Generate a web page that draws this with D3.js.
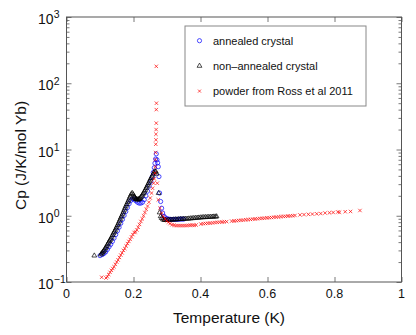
<!DOCTYPE html>
<html>
<head>
<meta charset="utf-8">
<script src="https://cdn.jsdelivr.net/npm/d3@7/dist/d3.min.js"></script>
<style>
body { margin: 0; background: #fff; }
svg { display: block; font-family: "Liberation Sans", Arial, sans-serif; }
</style>
</head>
<body>
<svg id="chart" width="416" height="335"></svg>
<script>
/* Data: Cp vs T */

// annealed crystal (blue circles)
var annealedT  = [0.100,0.107,0.112,0.117,0.122,0.127,0.132,0.137,0.142,0.147,0.152,0.157,0.162,0.167,
                  0.172,0.177,0.182,0.187,0.192,0.197,0.202,0.207,0.212,0.217,0.222,0.227,0.232,0.237,
                  0.242,0.247,0.252,0.256,0.259,0.262,0.264,0.266,0.268,0.270,0.272,0.274,0.276,0.278,
                  0.281,0.284,0.287,0.291,0.295,0.300,0.305,0.310,0.315,0.320,0.325,0.330,0.335,0.340,
                  0.345,0.350];
var annealedCp = [0.25,0.26,0.27,0.285,0.31,0.34,0.37,0.41,0.46,0.52,0.59,0.67,0.77,0.88,
                  1.01,1.16,1.33,1.52,1.70,1.80,1.78,1.68,1.60,1.55,1.55,1.60,1.75,2.00,
                  2.35,2.80,3.30,3.90,4.50,5.30,6.20,7.20,8.60,7.00,6.30,5.50,3.90,2.20,
                  1.64,1.30,1.10,0.98,0.93,0.90,0.89,0.88,0.88,0.88,0.88,0.88,0.885,0.89,
                  0.89,0.89];

// non-annealed crystal (black triangles)
var rawT  = [0.083,0.105,0.110,0.115,0.120,0.125,0.130,0.135,0.140,0.145,0.150,0.155,0.160,0.165,
             0.170,0.175,0.180,0.185,0.190,0.193,0.196,0.199,0.202,0.205,0.208,0.212,0.216,0.220,
             0.225,0.230,0.235,0.240,0.245,0.250,0.255,0.258,0.261,0.264,0.267,0.269,0.275,0.278,
             0.281,0.284,0.288,0.292,0.296,0.300,0.305,0.310,0.315,0.320,0.325,0.330,0.335,0.340,
             0.345,0.350,0.355,0.360,0.365,0.370,0.375,0.380,0.385,0.390,0.395,0.400,0.405,0.410,
             0.415,0.420,0.425,0.430,0.435,0.440,0.445,0.448,
             0.1025,0.1075,0.1125,0.1175,0.1225,0.1275,0.1325,0.1375,0.1425,0.1475,0.1525,0.1575,
             0.1625,0.1675,0.1725,0.1775,0.1825,0.1875,0.2035,0.2065,0.2100,0.2140,0.2180,0.2225,
             0.2275,0.2325,0.2375,0.2425,0.2475,0.2525];
var rawCp = [0.25,0.27,0.29,0.32,0.35,0.39,0.43,0.48,0.54,0.60,0.68,0.77,0.88,1.00,
             1.15,1.32,1.50,1.70,1.95,2.10,2.20,2.10,1.95,1.85,1.78,1.75,1.78,1.85,
             2.00,2.20,2.45,2.75,3.10,3.50,3.90,4.20,4.50,4.70,4.60,4.30,2.20,1.12,
             0.98,0.92,0.88,0.86,0.86,0.86,0.865,0.87,0.87,0.875,0.88,0.88,0.885,0.89,
             0.89,0.895,0.90,0.90,0.905,0.91,0.915,0.92,0.925,0.93,0.935,0.94,0.945,0.95,
             0.95,0.955,0.96,0.96,0.965,0.97,0.97,0.975,
             0.26,0.28,0.30,0.33,0.37,0.41,0.45,0.51,0.57,0.64,0.72,0.82,
             0.94,1.07,1.23,1.41,1.60,1.82,1.90,1.80,1.76,1.76,1.80,1.92,
             2.10,2.32,2.60,2.92,3.30,3.70];

// powder from Ross et al 2011 (red crosses)
var powderT  = [0.105,0.118,0.122,0.126,0.130,0.134,0.138,0.142,0.146,0.150,0.154,0.158,0.162,0.166,
                0.170,0.174,0.178,0.182,0.186,0.190,0.194,0.198,0.202,0.206,0.210,0.214,0.218,0.222,
                0.226,0.230,0.234,0.238,0.242,0.246,0.250,0.254,0.257,0.260,0.262,0.264,0.265,0.2655,
                0.266,0.2665,0.267,0.267,0.2675,0.268,0.268,0.2685,0.268,0.271,0.274,0.279,0.284,0.289,
                0.294,0.299,0.304,0.309,0.315,0.321,0.327,0.333,0.339,0.345,0.351,0.357,0.363,0.369,
                0.375,0.381,0.387,0.401,0.408,0.415,0.422,0.429,0.436,0.443,0.450,0.457,0.464,0.471,
                0.478,0.493,0.500,0.507,0.514,0.521,0.528,0.535,0.542,0.549,0.556,0.563,0.570,0.577,
                0.584,0.591,0.598,0.605,0.612,0.619,0.626,0.633,0.640,0.647,0.654,0.661,0.668,0.675,
                0.682,0.697,0.709,0.722,0.734,0.747,0.759,0.772,0.785,0.796,0.810,0.815,0.832,0.848,
                0.876];
var powderCp = [0.118,0.115,0.120,0.130,0.140,0.150,0.160,0.170,0.185,0.200,0.215,0.235,0.255,0.275,
                0.300,0.320,0.350,0.380,0.410,0.440,0.480,0.520,0.560,0.570,0.610,0.670,0.740,0.820,
                0.900,1.000,1.120,1.250,1.400,1.600,1.850,2.200,2.600,3.100,3.600,4.400,5.500,7.000,
                9.000,12.00,14.00,17.00,20.00,25.00,40.00,50.00,180.0,3.100,1.740,1.300,1.100,0.980,
                0.900,0.840,0.800,0.760,0.730,0.720,0.710,0.710,0.710,0.710,0.710,0.710,0.715,0.720,
                0.720,0.720,0.725,0.750,0.760,0.765,0.770,0.775,0.780,0.790,0.795,0.800,0.805,0.810,
                0.815,0.830,0.835,0.840,0.850,0.855,0.860,0.870,0.875,0.880,0.890,0.895,0.900,0.910,
                0.915,0.920,0.930,0.935,0.940,0.950,0.955,0.960,0.970,0.975,0.980,0.990,0.995,1.000,
                1.010,1.030,1.040,1.050,1.060,1.070,1.080,1.100,1.110,1.120,1.140,1.130,1.150,1.160,
                1.200];

/* Ticks and labels */

var T_TICKS = [0, 0.2, 0.4, 0.6, 0.8, 1];
var T_TICK_LABELS = ["0", "0.2", "0.4", "0.6", "0.8", "1"];
var CP_EXPONENTS = [-1, 0, 1, 2, 3];
var LEGEND_LABELS = ["annealed crystal", "non\u2013annealed crystal", "powder from Ross et al 2011"];
var X_LABEL = "Temperature (K)";
var Y_LABEL = "Cp (J/K/mol Yb)";

/* Measures */

var W = 416, H = 335;
var PLOT = { left: 66.5, right: 401.5, top: 17, bottom: 282 };
var FRAME_COLOR = "#555";
var MAJOR_TICK = 5, MINOR_TICK = 3;

var svg = d3.select("#chart");

var x = d3.scaleLinear().domain([0, 1]).range([PLOT.left, PLOT.right]);
var y = d3.scaleLog().domain([0.1, 1000]).range([PLOT.bottom, PLOT.top]);

var majorCp = CP_EXPONENTS.map(function(e) { return Math.pow(10, e); });
var minorCp = [];
majorCp.slice(0, -1).forEach(function(m) {
	for (var k = 2; k <= 9; k++) minorCp.push(m * k);
});

function styleAxis(g) {
	g.select(".domain").remove();
	g.selectAll(".tick line").attr("stroke", FRAME_COLOR).attr("stroke-width", 0.8);
	g.selectAll(".tick text").remove();
}

/* x ticks (inward, bottom and top) */
svg.append("g").attr("transform", "translate(0," + PLOT.bottom + ")")
	.call(d3.axisBottom(x).tickValues(T_TICKS).tickSize(-MAJOR_TICK).tickFormat(""))
	.call(styleAxis);
svg.append("g").attr("transform", "translate(0," + PLOT.top + ")")
	.call(d3.axisTop(x).tickValues(T_TICKS).tickSize(-MAJOR_TICK).tickFormat(""))
	.call(styleAxis);

/* y ticks (inward, left and right), major + minor */
[[PLOT.left, d3.axisLeft], [PLOT.right, d3.axisRight]].forEach(function(s) {
	svg.append("g").attr("transform", "translate(" + s[0] + ",0)")
		.call(s[1](y).tickValues(majorCp).tickSize(-MAJOR_TICK).tickFormat(""))
		.call(styleAxis);
	svg.append("g").attr("transform", "translate(" + s[0] + ",0)")
		.call(s[1](y).tickValues(minorCp).tickSize(-MINOR_TICK).tickFormat(""))
		.call(styleAxis);
});

/* frame */
svg.append("rect")
	.attr("x", PLOT.left).attr("y", PLOT.top)
	.attr("width", PLOT.right - PLOT.left).attr("height", PLOT.bottom - PLOT.top)
	.attr("fill", "none").attr("stroke", FRAME_COLOR).attr("stroke-width", 1);

/* tick labels */
svg.append("g").selectAll("text")
	.data(T_TICKS)
	.enter().append("text")
	.attr("x", function(d) { return x(d); })
	.attr("y", 297.5)
	.attr("text-anchor", "middle")
	.attr("font-size", "12.5px")
	.attr("fill", "#111")
	.text(function(d, i) { return T_TICK_LABELS[i]; });

var yl = svg.append("g").selectAll("g")
	.data(CP_EXPONENTS)
	.enter().append("g")
	.attr("transform", function(d) { return "translate(0," + y(Math.pow(10, d)) + ")"; });
yl.append("text")
	.attr("x", 53.5).attr("y", 7.2)
	.attr("text-anchor", "end")
	.attr("font-size", "14px")
	.attr("fill", "#111")
	.text("10");
yl.append("text")
	.attr("x", 53.8).attr("y", 1.3)
	.attr("font-size", "10.5px")
	.attr("fill", "#111")
	.text(function(d) { return d < 0 ? "\u2212" + (-d) : String(d); });

/* axis titles */
svg.append("text")
	.attr("x", 229).attr("y", 323)
	.attr("text-anchor", "middle")
	.attr("font-size", "15.5px")
	.attr("fill", "#111")
	.text(X_LABEL);
svg.append("text")
	.attr("transform", "translate(26,155.5) rotate(-90)")
	.attr("text-anchor", "middle")
	.attr("font-size", "15.5px")
	.attr("fill", "#111")
	.text(Y_LABEL);

/* markers */
function crossPath(s) {
	return "M" + (-s) + "," + (-s) + "L" + s + "," + s + "M" + (-s) + "," + s + "L" + s + "," + (-s);
}
var triPath = d3.symbol().type(d3.symbolTriangle).size(10)();

var plot = svg.append("g");

plot.append("g").selectAll("circle")
	.data(d3.zip(annealedT, annealedCp))
	.enter().append("circle")
	.attr("cx", function(d) { return x(d[0]); })
	.attr("cy", function(d) { return y(d[1]); })
	.attr("r", 2.1)
	.attr("fill", "none").attr("stroke", "#0000ff").attr("stroke-width", 0.7);

plot.append("g").selectAll("path")
	.data(d3.zip(rawT, rawCp))
	.enter().append("path")
	.attr("d", triPath)
	.attr("transform", function(d) { return "translate(" + x(d[0]) + "," + y(d[1]) + ")"; })
	.attr("fill", "none").attr("stroke", "#000").attr("stroke-width", 0.7);

plot.append("g").selectAll("path")
	.data(d3.zip(powderT, powderCp))
	.enter().append("path")
	.attr("d", crossPath(1.7))
	.attr("transform", function(d) { return "translate(" + x(d[0]) + "," + y(d[1]) + ")"; })
	.attr("fill", "none").attr("stroke", "#ff0000").attr("stroke-width", 0.7);

/* legend */
var legend = svg.append("g");
legend.append("rect")
	.attr("x", 185).attr("y", 26)
	.attr("width", 181).attr("height", 80)
	.attr("fill", "#fff").attr("stroke", "#888").attr("stroke-width", 1);

var rows = legend.selectAll("g.row")
	.data(LEGEND_LABELS)
	.enter().append("g")
	.attr("class", "row")
	.attr("transform", function(d, i) { return "translate(0," + (40.7 + i * 25.2) + ")"; });
rows.append("text")
	.attr("x", 213).attr("y", 4)
	.attr("font-size", "11px")
	.attr("fill", "#111")
	.text(function(d) { return d; });

rows.filter(function(d, i) { return i === 0; }).append("circle")
	.attr("cx", 199.5).attr("cy", 0).attr("r", 2.1)
	.attr("fill", "none").attr("stroke", "#0000ff").attr("stroke-width", 0.7);
rows.filter(function(d, i) { return i === 1; }).append("path")
	.attr("d", triPath).attr("transform", "translate(199.5,0)")
	.attr("fill", "none").attr("stroke", "#000").attr("stroke-width", 0.7);
rows.filter(function(d, i) { return i === 2; }).append("path")
	.attr("d", crossPath(1.5)).attr("transform", "translate(199.5,0)")
	.attr("fill", "none").attr("stroke", "#ff0000").attr("stroke-width", 0.7);
</script>
</body>
</html>
